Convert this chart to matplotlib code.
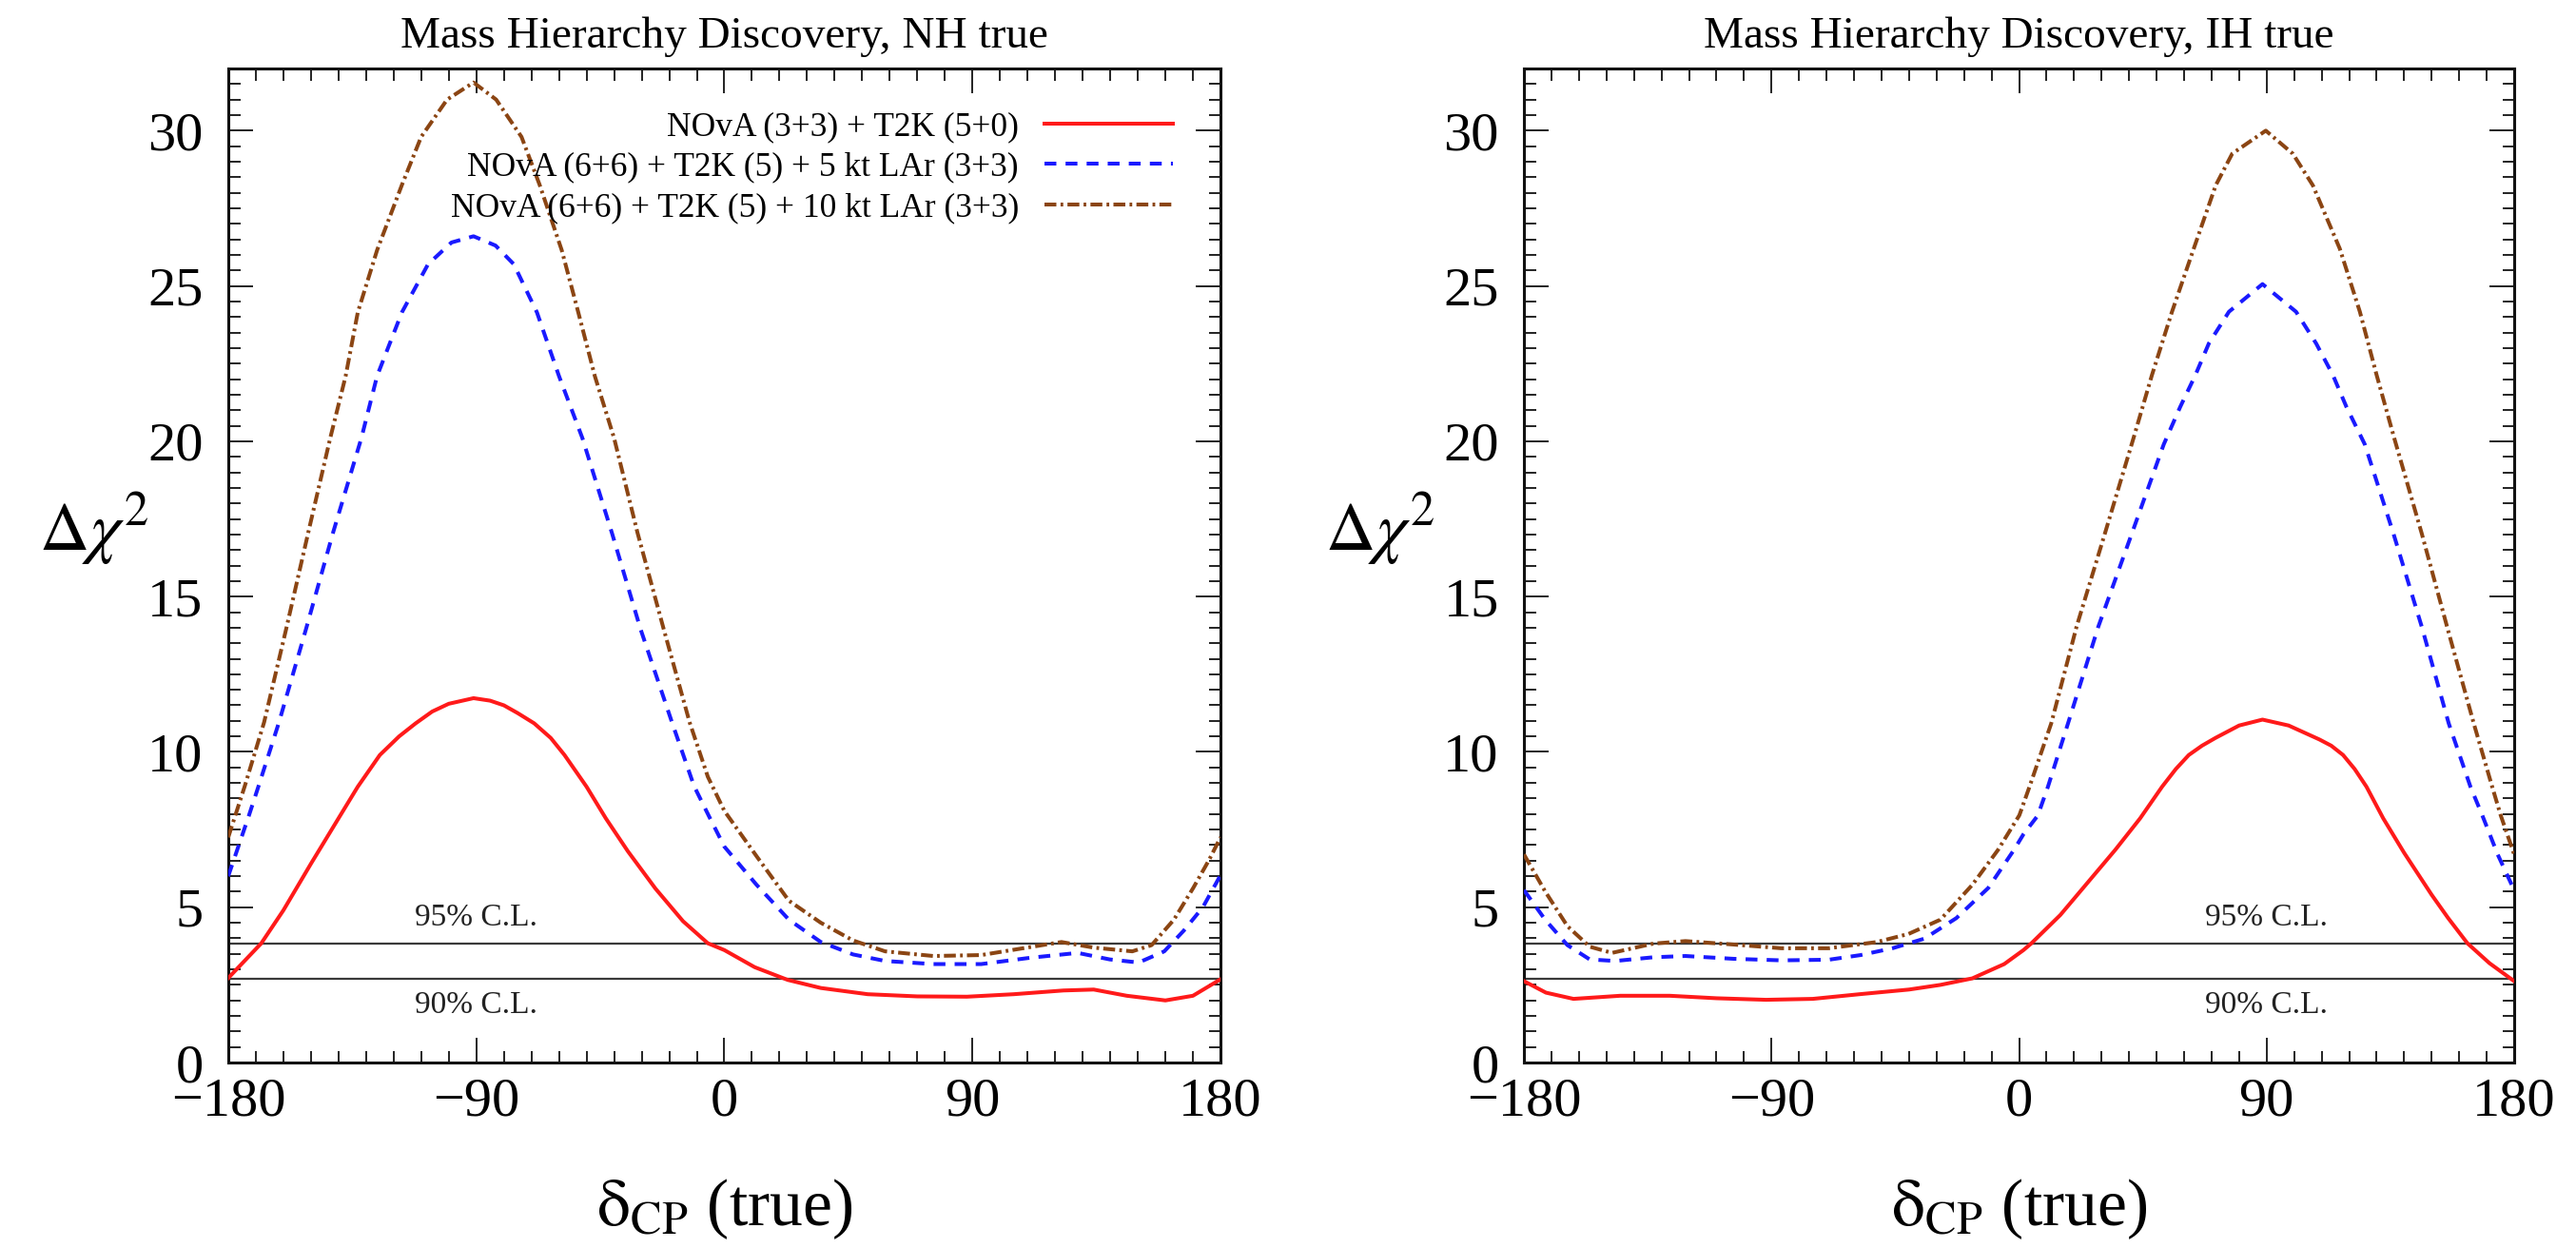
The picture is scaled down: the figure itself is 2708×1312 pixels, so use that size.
import matplotlib
matplotlib.use("Agg")
import matplotlib.pyplot as plt
from matplotlib.ticker import MultipleLocator

plt.rcParams['font.family'] = ['Liberation Serif', 'DejaVu Serif']
plt.rcParams['mathtext.fontset'] = 'stix'

# ---------------- data ----------------
# NH true panel
nh_red_d = [-180, -168, -160, -150, -140, -133, -125, -118, -112, -106, -100, -91, -85, -80, -75, -69,
            -63, -58, -50, -43, -35, -25, -15, -6, 0, 11, 23, 35, 52, 70, 88, 105, 123, 134, 146, 160,
            170, 180]
nh_red_v = [2.72, 3.84, 4.9, 6.4, 7.86, 8.88, 9.9, 10.5, 10.92, 11.3, 11.55, 11.73, 11.65, 11.5, 11.25,
            10.92, 10.45, 9.9, 8.88, 7.86, 6.8, 5.6, 4.55, 3.84, 3.62, 3.07, 2.66, 2.4, 2.2, 2.13, 2.12,
            2.2, 2.32, 2.35, 2.15, 2.0, 2.15, 2.68]

nh_blue_d = [-180, -172.5, -169, -161.6, -151.8, -142, -131.7, -126, -117, -107.5, -99, -91, -83,
             -76.4, -68, -60, -51.5, -40.8, -30.4, -19, -11, -5.7, 0, 11.7, 23.4, 35, 46.7, 58.3,
             75.8, 93.2, 110.7, 128.2, 139.8, 150.3, 159.6, 166.6, 173.6, 180]
nh_blue_v = [6.0, 7.95, 8.9, 10.95, 13.95, 17.05, 20.1, 22.1, 24.15, 25.7, 26.4, 26.6, 26.3,
             25.7, 24.15, 22.1, 20.1, 17.05, 13.95, 10.95, 8.9, 7.95, 6.95, 5.72, 4.6, 3.88, 3.48, 3.27,
             3.17, 3.17, 3.37, 3.53, 3.32, 3.22, 3.58, 4.24, 5.0, 6.03]

nh_brown_d = [-180, -174, -167, -159, -151, -143, -137.4, -133, -126, -117, -110, -100.6, -91,
              -82.8, -73.6, -67, -59, -53, -47, -40, -31.5, -22, -12.6, -6, 0, 11.7, 23.4, 35,
              46.7, 58.3, 75.8, 93.2, 104.9, 122.3, 134, 148, 155, 163.1, 170.1, 175.9, 180]
nh_brown_v = [7.25, 8.9, 10.95, 13.95, 17.05, 20.1, 22.1, 24.15, 26.15, 28.25, 29.8, 31.0, 31.55,
              31.0, 29.8, 28.25, 26.15, 24.15, 22.1, 20.1, 17.05, 13.95, 10.95, 9.2, 8.1, 6.64, 5.21, 4.5,
              3.93, 3.58, 3.43, 3.46, 3.63, 3.88, 3.7, 3.58, 3.78, 4.6, 5.62, 6.53, 7.25]

# IH true panel
ih_red_d = [-180, -172, -162, -145, -127, -110, -92, -75, -58, -40, -28.6, -17, -5.4, 1.6, 4.5,
            15, 25, 35, 44, 52, 57, 61.7, 66.5, 71.4, 80, 88.5, 98, 109.2, 113.5, 117.8, 122,
            126.3, 132.4, 140, 150, 156, 163, 171, 180]
ih_red_v = [2.62, 2.25, 2.05, 2.15, 2.15, 2.07, 2.02, 2.05, 2.2, 2.35, 2.5, 2.71, 3.17, 3.62, 3.84,
            4.75, 5.8, 6.85, 7.86, 8.88, 9.45, 9.9, 10.2, 10.45, 10.85, 11.04, 10.85, 10.4, 10.2, 9.9,
            9.45, 8.88, 7.86, 6.75, 5.4, 4.65, 3.84, 3.2, 2.62]

ih_blue_d = [-180, -172.3, -164.2, -156.1, -146.8, -132.9, -121.3, -103.9, -86.5, -69.2, -57.6,
             -46, -34.4, -22.8, -11.2, -1.9, 1.6, 6.8, 10.5, 17.8, 28.8, 41, 52.6, 58.6, 64.1, 69,
             76.3, 88.5, 100.7, 108, 114.1, 119, 125.7, 136.1, 146.4, 156.2, 164.1, 168.4, 174, 180]
ih_blue_v = [5.55, 4.6, 3.78, 3.32, 3.27, 3.39, 3.43, 3.34, 3.29, 3.31, 3.46,
             3.68, 3.99, 4.65, 5.62, 6.84, 7.35, 7.95, 8.88, 10.92, 14.03, 17.03, 19.9, 21.11, 22.13, 23.15,
             24.17, 25.06, 24.17, 23.15, 22.13, 21.11, 19.9, 17.03, 14.03, 10.92, 8.88, 7.96, 6.7, 5.55]

ih_brown_d = [-180, -172.3, -164.2, -156.1, -148, -132.9, -121.3, -103.9, -86.5, -69.2, -51.7,
              -40.2, -28.6, -17, -7.7, 0.1, 3.8, 11.7, 20.9, 31.2, 41.6, 48.3, 55.6, 63.5, 71.5,
              77.5, 89.7, 99.5, 106.8, 116.6, 123.9, 130, 136.4, 146.4, 155.6, 165.3, 172, 175.1, 180]
ih_brown_v = [6.7, 5.51, 4.39, 3.73, 3.53, 3.83, 3.91, 3.8, 3.68, 3.68, 3.88,
              4.14, 4.6, 5.72, 6.84, 7.96, 8.88, 10.92, 14.03, 17.03, 20.1, 22.13, 24.17, 26.2, 28.24,
              29.26, 30.0, 29.26, 28.24, 26.2, 24.17, 22.13, 20.1, 17.03, 14.03, 10.92, 8.88, 7.96, 6.7]

cl_levels = [3.84, 2.71]
cl_labels = ['95% C.L.', '90% C.L.']
cl_label_y = [4.65, 1.85]

legend_labels = ['NOvA (3+3) + T2K (5+0)',
                 'NOvA (6+6) + T2K (5) + 5 kt LAr (3+3)',
                 'NOvA (6+6) + T2K (5) + 10 kt LAr (3+3)']
titles = ['Mass Hierarchy Discovery, NH true', 'Mass Hierarchy Discovery, IH true']
xticks = [-180, -90, 0, 90, 180]
yticks = [0, 5, 10, 15, 20, 25, 30]

# ---------------- figure ----------------
fig = plt.figure(figsize=(27.08, 13.12), dpi=100)
ax1 = fig.add_axes([0.0886, 0.1486, 0.3852, 0.7965])
ax2 = fig.add_axes([0.5916, 0.1486, 0.3844, 0.7965])

RED = '#ff1a1a'
BLUE = '#1a1aff'
BROWN = '#8b4513'
LW = 2.9

panels = [
    (ax1, (nh_red_d, nh_red_v), (nh_blue_d, nh_blue_v), (nh_brown_d, nh_brown_v), -90, titles[0]),
    (ax2, (ih_red_d, ih_red_v), (ih_blue_d, ih_blue_v), (ih_brown_d, ih_brown_v), 90, titles[1]),
]

for i, (ax, red, blue, brown, lab_x, title) in enumerate(panels):
    for lev in cl_levels:
        ax.axhline(lev, color='#3a3a3a', lw=1.6, zorder=1)
    for txt, ty in zip(cl_labels, cl_label_y):
        ax.text(lab_x, ty, txt, ha='center', va='center', fontsize=24, color='#222222')

    l1, = ax.plot(red[0], red[1], color=RED, lw=LW, solid_joinstyle='round', zorder=3)
    l2, = ax.plot(blue[0], blue[1], color=BLUE, lw=LW, dashes=(3.1, 2.4), zorder=3)
    l3, = ax.plot(brown[0], brown[1], color=BROWN, lw=LW, dashes=(3.1, 1.1, 0.7, 1.1), zorder=3)

    ax.set_xlim(-180, 180)
    ax.set_ylim(0, 32)
    ax.set_xticks(xticks)
    ax.set_yticks(yticks)
    ax.xaxis.set_minor_locator(MultipleLocator(10))
    ax.yaxis.set_minor_locator(MultipleLocator(0.5))
    ax.tick_params(which='both', direction='in', top=True, right=True, width=1.4, color='#222222')
    ax.tick_params(which='major', length=19)
    ax.tick_params(which='minor', length=9)
    ax.tick_params(axis='x', which='major', labelsize=42, pad=11)
    ax.tick_params(axis='y', which='major', labelsize=42, pad=19)
    for sp in ax.spines.values():
        sp.set_linewidth(2.2)
        sp.set_color('#111111')

    ax.set_title(title, fontsize=34, pad=16)
    ax.text(-0.135 if i == 0 else -0.145, 0.537, r'$\Delta\chi^2$', transform=ax.transAxes,
            ha='center', va='center', fontsize=52)
    ax.text(0.5, -0.164, r'$\mathrm{δ}_{\mathrm{CP}}$ (true)', transform=ax.transAxes,
            ha='center', va='baseline', fontsize=50)

    if i == 0:
        ax.legend([l1, l2, l3], legend_labels, loc='upper right', bbox_to_anchor=(0.952, 0.957),
                  frameon=False, fontsize=25.5, markerfirst=False, handlelength=3.8,
                  handletextpad=0.78, labelspacing=0.27, borderpad=0, borderaxespad=0)

fig.savefig('out.png', dpi=100)
